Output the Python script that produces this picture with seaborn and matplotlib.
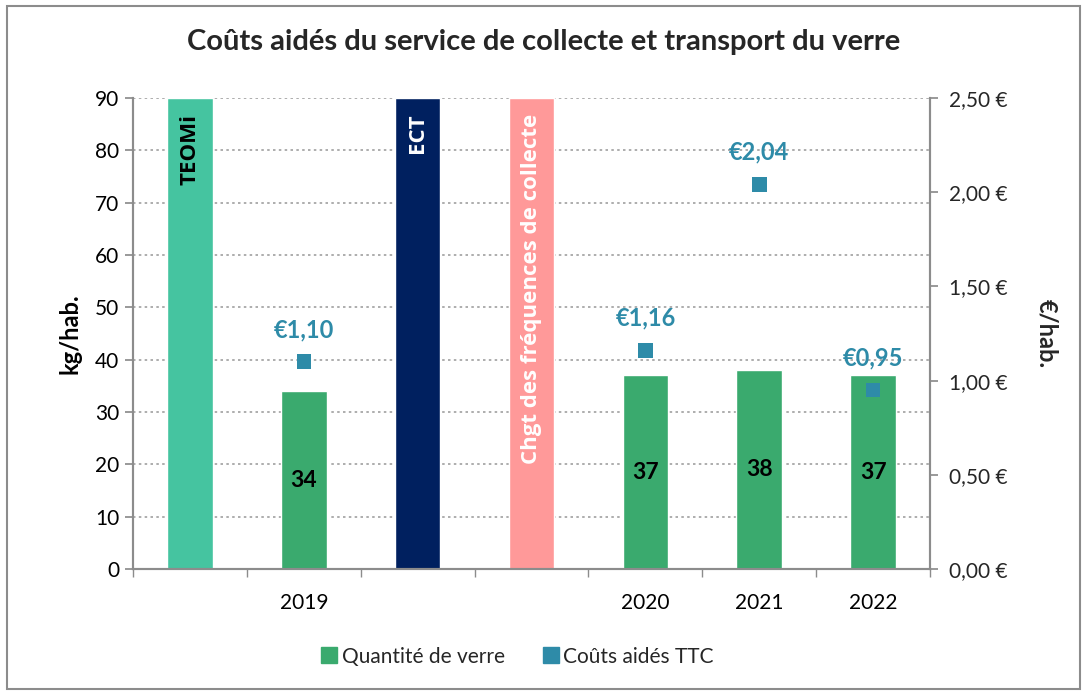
import pandas as pd
import seaborn as sns
import matplotlib.pyplot as plt
from matplotlib.lines import Line2D
from matplotlib.patches import Rectangle

# Données
creneaux = ["TEOMi", "2019", "ECT", "Chgt des fréquences de collecte", "2020", "2021", "2022"]
etiquettes_x = ["", "2019", "", "", "2020", "2021", "2022"]
quantite = [90, 34, 90, 90, 37, 38, 37]
evenements = ["TEOMi", "ECT", "Chgt des fréquences de collecte"]
annees_couts = ["2019", "2020", "2021", "2022"]
couts = [1.10, 1.16, 2.04, 0.95]

couleurs = {
    "TEOMi": "#45C4A0",
    "2019": "#3AAA6E",
    "ECT": "#00205F",
    "Chgt des fréquences de collecte": "#FF9999",
    "2020": "#3AAA6E",
    "2021": "#3AAA6E",
    "2022": "#3AAA6E",
}
couleur_texte_evt = {"TEOMi": "black", "ECT": "white", "Chgt des fréquences de collecte": "white"}
bleu = "#2E8BA8"
gris = "#8C8C8C"

df = pd.DataFrame({"Creneau": creneaux, "Quantite": quantite})
df_couts = pd.DataFrame({"Creneau": annees_couts, "Cout": couts})
df_couts["pos"] = [creneaux.index(a) for a in annees_couts]

sns.set_theme(style="white")
plt.rcParams["font.family"] = ["Lato", "DejaVu Sans"]

fig = plt.figure(figsize=(10.87, 6.95), dpi=100)
ax = fig.add_axes([0.1224, 0.1813, 0.7332, 0.6777])

sns.barplot(data=df, x="Creneau", y="Quantite", hue="Creneau", order=creneaux,
            palette=couleurs, width=0.4, legend=False, saturation=1, ax=ax)

ax.set_ylim(0, 90)
ax.set_xlim(-0.5, len(creneaux) - 0.5)
ax.set_yticks(range(0, 91, 10))
ax.tick_params(axis="y", labelsize=15, length=6, color=gris, direction="out", left=True,
               pad=4, labelcolor="black")
ax.set_xticks(range(len(creneaux)))
ax.set_xticklabels(etiquettes_x, fontsize=15, color="black")
ax.tick_params(axis="x", length=0, pad=17)
ax.set_xticks([i + 0.5 for i in range(-1, len(creneaux))], minor=True)
ax.tick_params(axis="x", which="minor", length=6, color=gris, bottom=True)
ax.yaxis.grid(True, linestyle=(0, (1.5, 2)), color="#A0A0A0", linewidth=1.2)
ax.set_axisbelow(True)
ax.set_xlabel("")
ax.set_ylabel("kg/hab.", fontsize=17, fontweight="bold", labelpad=10, color="black")
for s in ["left", "bottom", "right"]:
    ax.spines[s].set_color(gris)
    ax.spines[s].set_linewidth(1.5)
ax.spines["top"].set_visible(False)

# valeurs dans les barres
for i, (c, v) in enumerate(zip(creneaux, quantite)):
    if c in evenements:
        ax.text(i, 87, c, rotation=90, ha="center", va="top", fontsize=16,
                fontweight="bold", color=couleur_texte_evt[c], family=["Open Sans", "DejaVu Sans"])
    else:
        ax.text(i, v / 2, f"{v}", ha="center", va="center", fontsize=16.5,
                fontweight="bold", color="black")

# Axe secondaire
ax2 = ax.twinx()
sns.scatterplot(data=df_couts, x="pos", y="Cout", marker="s", s=110, color=bleu,
                edgecolor="none", ax=ax2, zorder=5)
ax2.set_ylim(0, 2.5)
ax2.set_yticks([0, 0.5, 1.0, 1.5, 2.0, 2.5])
ax2.set_yticklabels([f"{t:.2f} €".replace(".", ",") for t in ax2.get_yticks()], fontsize=15)
ax2.tick_params(axis="y", length=6, color=gris, direction="out", right=True, pad=8)
ax2.set_ylabel("€/hab.", fontsize=17, fontweight="bold", rotation=-90, labelpad=36)
ax2.set_xlabel("")
ax2.set_xlim(ax.get_xlim())
for s in ["left", "bottom", "right"]:
    ax2.spines[s].set_color(gris)
    ax2.spines[s].set_linewidth(1.5)
ax2.spines["top"].set_visible(False)
for p, v in zip(df_couts["pos"], df_couts["Cout"]):
    ax2.annotate(f"€{v:.2f}".replace(".", ","), (p, v), xytext=(0, 15),
                 textcoords="offset points", ha="center", va="bottom",
                 fontsize=17, fontweight="bold", color=bleu)

fig.suptitle("Coûts aidés du service de collecte et transport du verre",
             fontsize=21, fontweight="bold", y=0.958)

handles = [
    Line2D([], [], marker="s", linestyle="", color="#3AAA6E", markersize=11),
    Line2D([], [], marker="s", linestyle="", color=bleu, markersize=11),
]
fig.legend(handles, ["Quantité de verre", "Coûts aidés TTC"], loc="center",
           bbox_to_anchor=(0.476, 0.055), ncol=2, frameon=False, fontsize=15,
           handletextpad=0.2, columnspacing=1.8, handlelength=0.8)

fig.patches.append(Rectangle((0.006, 0.008), 0.988, 0.984, transform=fig.transFigure,
                             fill=False, edgecolor=gris, linewidth=1.5))

fig.savefig("out.png", dpi=100)
